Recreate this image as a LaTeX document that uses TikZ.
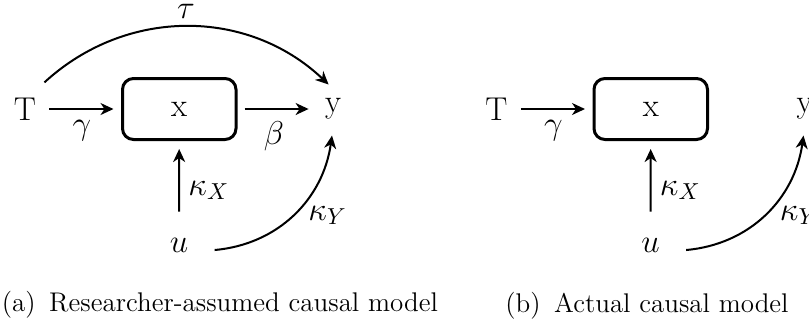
\documentclass[tikz,border=0pt]{standalone}
\usepackage{fix-cm}
\usepackage{fontspec}
\usetikzlibrary{arrows.meta,calc}
\begin{document}
\begin{tikzpicture}[x=0.5pt,y=-0.5pt,
  lbl/.style={inner sep=0pt,font=\fontsize{16.5}{20}\selectfont},
  box/.style={draw,line width=1.5pt,rounded corners=5.5pt,minimum width=56.75pt,minimum height=30.5pt,inner sep=0pt,font=\fontsize{16.5}{20}\selectfont},
  arr/.style={-{Stealth[length=6.5pt,width=6pt,inset=2pt]},line width=1pt},
  captext/.style={inner sep=0pt,anchor=base west,font=\fontsize{13.5}{16}\selectfont}]
\useasboundingbox (0,0) rectangle (809,329);
% ---- (a) ----
\node[lbl] (T) at (25,109) {T};
\node[box] (x) at (179.25,109) {x};
\node[lbl] (y) at (333,109) {y};
\node[lbl] (u) at (179,245.8) {$u$};
\node[lbl] (tau) at (186,11) {$\tau$};
\node[lbl] (g) at (82,131) {$\gamma$};
\node[lbl] (b) at (274,136) {$\beta$};
\node[lbl,anchor=base west] (kx) at (188,195) {$\kappa_X$};
\node[lbl,anchor=base west] (ky) at (308,220) {$\kappa_Y$};
\draw[arr,shorten <=6.5pt,shorten >=3.75pt] (T) -- (x);
\draw[arr,shorten <=3.5pt,shorten >=8pt] (x) -- (y);
\draw[arr] ([shift={(8,-15)}]T.north east) to[bend left=43] ([shift={(4,-13.7)}]y.north west);
\draw[arr,shorten <=13.3pt,shorten >=4pt] (u) -- (x);
\draw[arr] ([shift={(26,4.2)}]u.east) to[out=5,in=-98] ([shift={(-1,15.7)}]y.south);
\node[captext] (capa) at (1.5,311) {(a)\hspace{0.5em}Researcher-assumed causal model};
% ---- (b) ----
\node[lbl] (T2) at (496.5,109) {T};
\node[box] (x2) at (650.75,109) {x};
\node[lbl] (y2) at (804.5,109) {y};
\node[lbl] (u2) at (650.5,245.8) {$u$};
\node[lbl] (g2) at (553.5,131) {$\gamma$};
\node[lbl,anchor=base west] (kx2) at (659.5,195) {$\kappa_X$};
\node[lbl,anchor=base west] (ky2) at (779.5,220) {$\kappa_Y$};
\draw[arr,shorten <=6.5pt,shorten >=3.75pt] (T2) -- (x2);
\draw[arr,shorten <=13.3pt,shorten >=4pt] (u2) -- (x2);
\draw[arr] ([shift={(26,4.2)}]u2.east) to[out=5,in=-98] ([shift={(-1,15.7)}]y2.south);
\node[captext] (capb) at (505,312) {(b)\hspace{0.5em}Actual causal model};
\end{tikzpicture}
\end{document}
